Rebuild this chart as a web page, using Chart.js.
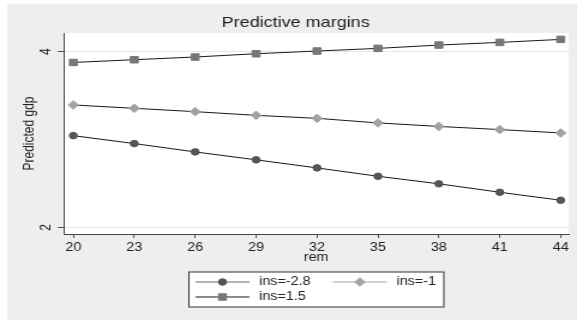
<!DOCTYPE html>
<html>
<head>
<meta charset="utf-8">
<script src="https://cdn.jsdelivr.net/npm/chart.js@4/dist/chart.umd.min.js"></script>
<style>
  html, body { margin: 0; padding: 0; background: #fff; }
  #c { display: block; }
</style>
</head>
<body>
<!-- the reference is horizontally stretched, so draw narrow and widen -->
<canvas id="c" width="481" height="320" style="width:577px;height:320px"></canvas>
<script>
// values
const rem = [20, 23, 26, 29, 32, 35, 38, 41, 44];
const insNeg28 = [3.045, 2.955, 2.86, 2.77, 2.678, 2.583, 2.497, 2.401, 2.31];
const insNeg1 = [3.394, 3.356, 3.318, 3.276, 3.242, 3.19, 3.15, 3.114, 3.076];
const ins15 = [3.878, 3.909, 3.94, 3.977, 4.008, 4.038, 4.076, 4.106, 4.14];
const seriesLabels = ["ins=-2.8", "ins=-1", "ins=1.5"];
const yTicks = [2, 4];

const FONT = "'Liberation Sans', Arial, sans-serif";
const markerColors = ["#555555", "#a3a3a3", "#777777"];
const legendLineColors = ["#6a6a6a", "#a3a3a3", "#1a1a1a"];
const styles = ["circle", "rectRot", "rect"];
const radii = [3.3, 4.3, 4.6];

function toPoints(vals) {
  return rem.map((r, i) => ({ x: r, y: vals[i] }));
}

const chartBg = {
  id: "chartBg",
  beforeDraw(chart) {
    const ctx = chart.ctx;
    const a = chart.chartArea;
    ctx.save();
    ctx.fillStyle = "#eeeeee";
    ctx.fillRect(6, 4, chart.width - 6, chart.height - 4);
    ctx.fillStyle = "#ffffff";
    ctx.fillRect(a.left, a.top, a.right - a.left, a.bottom - a.top);
    ctx.restore();
  },
};

function marker(ctx, i, x, y) {
  ctx.fillStyle = markerColors[i];
  ctx.strokeStyle = markerColors[i];
  ctx.lineWidth = 1;
  Chart.helpers.drawPoint(ctx, { pointStyle: styles[i], radius: radii[i], rotation: 0, borderWidth: 1 }, x, y);
}

const extras = {
  id: "extras",
  afterDraw(chart) {
    const ctx = chart.ctx;
    const a = chart.chartArea;
    const ys = chart.scales.y;
    ctx.save();
    ctx.fillStyle = "#222";
    // title
    ctx.font = "15px " + FONT;
    ctx.textAlign = "center";
    ctx.textBaseline = "middle";
    ctx.fillText("Predictive margins", 246.5, 23);
    // x title
    ctx.font = "12px " + FONT;
    ctx.fillText("rem", (a.left + a.right) / 2, 258);
    // y title and rotated tick labels
    ctx.save();
    ctx.translate(25, (a.top + a.bottom) / 2);
    ctx.rotate(-Math.PI / 2);
    ctx.fillText("Predicted gdp", 0, 0);
    ctx.restore();
    yTicks.forEach((v) => {
      ctx.save();
      ctx.translate(39, ys.getPixelForValue(v));
      ctx.rotate(-Math.PI / 2);
      ctx.fillText(String(v), 0, 0);
      ctx.restore();
    });
    // legend
    const bx = 157.5, by = 272, bw = 212.5, bh = 35;
    ctx.fillStyle = "#ffffff";
    ctx.fillRect(bx, by, bw, bh);
    ctx.strokeStyle = "#333";
    ctx.lineWidth = 1;
    ctx.strokeRect(bx, by, bw, bh);
    const slots = [
      { x: 163, y: 282 },
      { x: 277.5, y: 282 },
      { x: 163, y: 297 },
    ];
    slots.forEach((s, i) => {
      ctx.strokeStyle = legendLineColors[i];
      ctx.lineWidth = 1;
      ctx.beginPath();
      ctx.moveTo(s.x, s.y);
      ctx.lineTo(s.x + 45, s.y);
      ctx.stroke();
      marker(ctx, i, s.x + 22.5, s.y);
      ctx.fillStyle = "#222";
      ctx.font = "12px " + FONT;
      ctx.textAlign = "left";
      ctx.textBaseline = "middle";
      ctx.fillText(seriesLabels[i], s.x + 53, s.y);
    });
    ctx.restore();
  },
};

const ds = [insNeg28, insNeg1, ins15].map((vals, i) => ({
  label: seriesLabels[i],
  data: toPoints(vals),
  borderColor: "#1a1a1a",
  borderWidth: 1,
  pointStyle: styles[i],
  pointRadius: radii[i],
  pointBackgroundColor: markerColors[i],
  pointBorderColor: markerColors[i],
  pointBorderWidth: 1,
  tension: 0,
}));

new Chart(document.getElementById("c"), {
  type: "line",
  data: { datasets: ds },
  options: {
    responsive: false,
    animation: false,
    devicePixelRatio: 1,
    layout: { padding: { left: 0, top: 33, right: 7, bottom: 0 } },
    plugins: { legend: { display: false }, title: { display: false }, tooltip: { enabled: false } },
    scales: {
      x: {
        type: "linear",
        min: 19.52,
        max: 44.39,
        afterBuildTicks: (s) => { s.ticks = rem.map((v) => ({ value: v })); },
        afterFit: (s) => { s.height = 86; },
        grid: { drawOnChartArea: false, drawTicks: true, tickLength: 4, tickColor: "#555" },
        border: { color: "#444", width: 1 },
        ticks: { autoSkip: false, maxRotation: 0, padding: 2, color: "#222", font: { family: FONT, size: 12 } },
      },
      y: {
        type: "linear",
        min: 1.926,
        max: 4.213,
        afterBuildTicks: (s) => { s.ticks = yTicks.map((v) => ({ value: v })); },
        afterFit: (s) => { s.width = 53; },
        grid: { color: "#e6e6e6", tickColor: "#555", tickLength: 5, drawTicks: true },
        border: { color: "#444", width: 1 },
        ticks: { display: false },
      },
    },
  },
  plugins: [chartBg, extras],
});
</script>
</body>
</html>
